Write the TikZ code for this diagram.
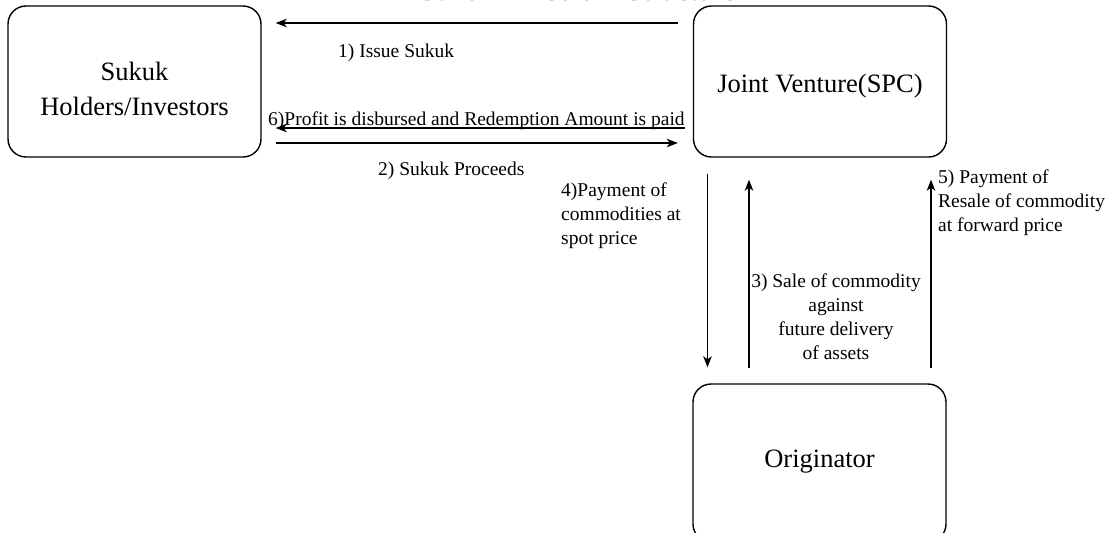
\documentclass[tikz,border=0pt]{standalone}
\usepackage{fontspec}
\setmainfont{Liberation Serif}
\usetikzlibrary{arrows.meta}
\begin{document}
\begin{tikzpicture}[x=1pt,y=-1pt,
  party/.style={draw, line width=1.4pt, rounded corners=18pt,
    minimum width=253pt, minimum height=151pt, inner sep=0pt},
  partytext/.style={inner sep=0pt, align=center, font=\fontsize{26.5}{35}\selectfont},
  flow/.style={line width=1.3pt, -{Stealth[length=11pt,width=8.5pt,inset=3pt]}},
  lbl/.style={inner sep=0pt, font=\fontsize{19.5}{23.8}\selectfont}]
\useasboundingbox (0,0) rectangle (1120,533);
\clip (0,0) rectangle (1120,533);

% title (runs off the top edge)
\node[anchor=base, inner sep=0pt, font=\fontsize{30}{36}\selectfont, text=black!70] (title) at (578,0.5)
  {Sukuk Al-Salam Structure};

% parties
\node[party] (inv) at (134.5,81.5) {};
\node[party] (jv) at (820,81.5) {};
\node[party, minimum height=158pt] (orig) at (819.5,463) {};

% party names (base = baseline of the last line)
\node[partytext, anchor=base] (invtext) at (134.5,115) {Sukuk\\Holders/Investors};
\node[partytext, anchor=base] (jvtext) at (820,92) {Joint Venture(SPC)};
\node[partytext, anchor=base] (origtext) at (819.5,467) {Originator};

% flows between investors and the SPC
\draw[flow, shorten <=15pt, shorten >=14pt] (jv.west |- 0,23) -- (inv.east |- 0,23);
\draw[flow, shorten <=8pt, shorten >=14pt] (jv.west |- 0,128) -- (inv.east |- 0,128);
\draw[flow, shorten <=14pt, shorten >=15pt] (inv.east |- 0,143) -- (jv.west |- 0,143);

% flows between the SPC and the originator
\draw[flow, shorten <=16pt, shorten >=16pt] (707.5,0 |- jv.south) -- (707.5,0 |- orig.north);
\draw[flow, shorten <=15pt, shorten >=22pt] (749,0 |- orig.north) -- (749,0 |- jv.south);
\draw[flow, shorten <=15pt, shorten >=22pt] (931,0 |- orig.north) -- (931,0 |- jv.south);

% flow labels (multi-line ones placed by their last baseline)
\node[lbl, anchor=base west] (l1) at (338,57) {1) Issue Sukuk};
\node[lbl, anchor=base west] (l6) at (268,125) {6)Profit is disbursed and Redemption Amount is paid};
\node[lbl, anchor=base west] (l2) at (378,175) {2) Sukuk Proceeds};
\node[lbl, anchor=base west, align=left] (l4) at (561,244) {4)Payment of\\commodities at\\spot price};
\node[lbl, anchor=base, align=center] (l3) at (836,359) {3) Sale of commodity\\against\\future delivery\\of assets};
\node[lbl, anchor=base west, align=left] (l5) at (938,231) {5) Payment of\\Resale of commodity\\at forward price};
\end{tikzpicture}
\end{document}
